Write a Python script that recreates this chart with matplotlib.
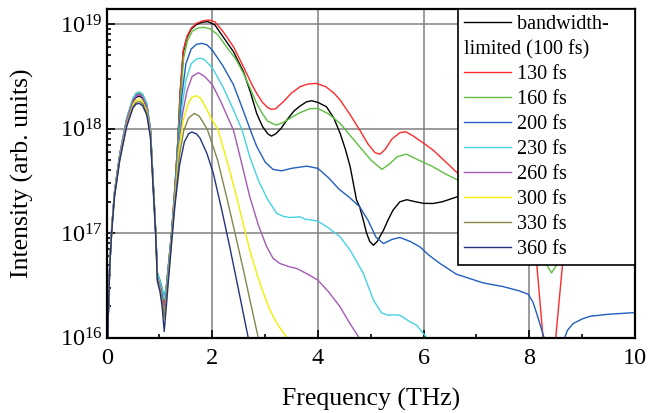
import numpy as np
import matplotlib
matplotlib.use("Agg")
import matplotlib.pyplot as plt
from matplotlib.lines import Line2D
from matplotlib.ticker import FixedLocator, LogLocator, NullFormatter

# ======================== Data ========================
# frequency in THz, intensity given as log10(arb. units)

lobe_x = [0.0, 0.03, 0.06, 0.1, 0.15, 0.25, 0.38, 0.5, 0.56, 0.62, 0.68, 0.76,
          0.83, 0.88, 0.93, 0.96, 1.01, 1.05, 1.09, 1.13, 1.17, 1.23]

# bandwidth-limited (100 fs)
bl_lobe = [14.5, 16.2, 16.7, 17.06, 17.38, 17.74, 18.07, 18.26, 18.3, 18.31, 18.29, 18.2,
           17.97, 17.48, 17.0, 16.6, 16.52, 16.44, 16.3, 16.45, 16.68, 17.0]
bl_x = [1.29, 1.35, 1.39, 1.45, 1.52, 1.6, 1.7, 1.82, 1.92, 2.05, 2.2, 2.4, 2.59, 2.72,
        2.84, 2.95, 3.05, 3.12, 3.2, 3.3, 3.41, 3.55, 3.66, 3.78, 3.88, 4.0, 4.16, 4.3,
        4.42, 4.52, 4.61, 4.73, 4.79, 4.86, 4.92, 4.98, 5.05, 5.12, 5.24, 5.33, 5.42,
        5.55, 5.68, 5.85, 6.0, 6.18, 6.35, 6.65, 7.0, 7.5, 8.0]
bl_y = [17.42, 17.9, 18.33, 18.73, 18.87, 18.95, 18.995, 19.018, 19.022, 18.99, 18.88,
        18.735, 18.544, 18.35, 18.145, 18.02, 17.95, 17.928, 17.95, 18.0, 18.081, 18.17,
        18.215, 18.255, 18.266, 18.25, 18.209, 18.1, 17.954, 17.8, 17.634, 17.316, 17.25,
        17.12, 17.0, 16.92, 16.885, 16.92, 17.029, 17.13, 17.22, 17.3, 17.32, 17.3,
        17.285, 17.284, 17.3, 17.35, 17.4, 17.4, 17.3]

# 130 fs
r_lobe = [14.5, 16.2, 16.71, 17.07, 17.39, 17.75, 18.08, 18.27, 18.32, 18.33, 18.31, 18.22,
          17.98, 17.49, 17.0, 16.61, 16.53, 16.45, 16.32, 16.47, 16.69, 17.01]
r_x = [1.29, 1.35, 1.39, 1.45, 1.52, 1.6, 1.7, 1.82, 1.94, 2.05, 2.2, 2.4, 2.59, 2.75,
       2.84, 2.95, 3.05, 3.12, 3.2, 3.35, 3.5, 3.66, 3.8, 3.97, 4.15, 4.3, 4.42, 4.6,
       4.79, 4.95, 5.08, 5.17, 5.27, 5.4, 5.55, 5.66, 5.8, 6.0, 6.18, 6.4, 6.65, 7.0,
       7.4, 7.8, 8.0, 8.14, 8.26, 8.34, 8.38, 8.43, 8.5, 8.63, 8.8, 9.2, 9.6, 10.0]
r_y = [17.42, 17.9, 18.34, 18.75, 18.88, 18.96, 19.006, 19.03, 19.038, 19.02, 18.93,
       18.783, 18.59, 18.42, 18.337, 18.25, 18.2, 18.184, 18.19, 18.26, 18.34, 18.4,
       18.425, 18.432, 18.4, 18.34, 18.273, 18.14, 17.986, 17.85, 17.77, 17.755, 17.8,
       17.9, 17.96, 17.97, 17.93, 17.86, 17.794, 17.69, 17.57, 17.43, 17.25, 17.03,
       16.87, 16.71, 16.0, 15.3, 15.0, 15.3, 16.0, 16.71, 17.1, 17.55, 17.85, 18.05]

# 160 fs
g_lobe = [14.5, 16.2, 16.72, 17.08, 17.4, 17.76, 18.1, 18.29, 18.34, 18.35, 18.33, 18.24,
          18.0, 17.5, 17.0, 16.62, 16.55, 16.48, 16.38, 16.5, 16.7, 17.02]
g_x = [1.29, 1.35, 1.4, 1.46, 1.53, 1.62, 1.72, 1.83, 1.95, 2.1, 2.3, 2.45, 2.59, 2.72,
       2.84, 2.95, 3.05, 3.21, 3.35, 3.47, 3.65, 3.85, 4.0, 4.2, 4.42, 4.6, 4.79, 5.0,
       5.21, 5.35, 5.5, 5.67, 5.9, 6.18, 6.4, 6.65, 7.0, 7.5, 8.0, 8.3, 8.42, 8.55, 9.0,
       9.5, 10.0]
g_y = [17.4, 17.88, 18.3, 18.68, 18.84, 18.93, 18.96, 18.968, 18.955, 18.9, 18.76, 18.66,
       18.528, 18.38, 18.24, 18.14, 18.07, 18.033, 18.06, 18.098, 18.15, 18.19, 18.193,
       18.14, 18.05, 17.94, 17.826, 17.7, 17.61, 17.66, 17.73, 17.756, 17.7, 17.634,
       17.57, 17.507, 17.4, 17.2, 16.95, 16.72, 16.62, 16.72, 17.15, 17.4, 17.57]

# 200 fs
b_lobe = [14.5, 16.2, 16.72, 17.08, 17.4, 17.76, 18.09, 18.28, 18.33, 18.34, 18.32, 18.23,
          17.99, 17.5, 17.0, 16.62, 16.54, 16.46, 16.36, 16.49, 16.69, 17.01]
b_x = [1.29, 1.36, 1.42, 1.5, 1.6, 1.7, 1.8, 1.9, 2.0, 2.2, 2.4, 2.55, 2.71, 2.84, 3.0,
       3.15, 3.31, 3.5, 3.79, 4.0, 4.2, 4.4, 4.6, 4.79, 4.95, 5.1, 5.24, 5.4, 5.55, 5.75,
       5.93, 6.1, 6.31, 6.62, 7.13, 7.5, 7.8, 7.98, 8.07, 8.14, 8.22, 8.28, 8.4, 8.55,
       8.67, 8.72, 8.83, 9.0, 9.15, 9.5, 10.0]
b_y = [17.38, 17.88, 18.3, 18.62, 18.76, 18.805, 18.815, 18.8, 18.75, 18.6, 18.42, 18.22,
       18.0, 17.83, 17.68, 17.61, 17.596, 17.62, 17.641, 17.619, 17.53, 17.42, 17.34,
       17.252, 17.12, 16.96, 16.901, 16.94, 16.959, 16.92, 16.869, 16.79, 16.71, 16.608,
       16.524, 16.49, 16.45, 16.416, 16.34, 16.232, 16.1, 16.0, 15.5, 15.5, 16.0, 16.07,
       16.136, 16.18, 16.206, 16.225, 16.241]

# 230 fs
c_lobe = [14.5, 16.2, 16.72, 17.08, 17.4, 17.76, 18.1, 18.29, 18.335, 18.345, 18.325, 18.235,
          17.99, 17.5, 17.0, 16.62, 16.54, 16.47, 16.37, 16.48, 16.68, 17.0]
c_x = [1.29, 1.37, 1.43, 1.5, 1.6, 1.7, 1.77, 1.85, 2.0, 2.2, 2.4, 2.56, 2.71, 2.87,
       3.05, 3.22, 3.35, 3.47, 3.66, 3.75, 4.0, 4.2, 4.42, 4.61, 4.86, 5.05, 5.2, 5.33,
       5.45, 5.55, 5.75, 5.87, 5.93, 6.06, 6.2]
c_y = [17.36, 17.88, 18.22, 18.46, 18.62, 18.665, 18.672, 18.66, 18.58, 18.4, 18.18,
       17.99, 17.73, 17.507, 17.32, 17.189, 17.16, 17.15, 17.156, 17.135, 17.115, 17.05,
       16.965, 16.837, 16.614, 16.36, 16.24, 16.215, 16.22, 16.215, 16.15, 16.12, 16.08,
       16.0, 15.8]

# 260 fs
p_lobe = [14.5, 16.2, 16.71, 17.07, 17.39, 17.75, 18.08, 18.27, 18.31, 18.32, 18.3, 18.21,
          17.97, 17.48, 16.99, 16.58, 16.5, 16.4, 16.27, 16.43, 16.65, 16.98]
p_x = [1.29, 1.37, 1.44, 1.52, 1.62, 1.74, 1.85, 2.0, 2.15, 2.4, 2.55, 2.71, 2.87, 3.03,
       3.15, 3.28, 3.45, 3.6, 3.8, 4.0, 4.2, 4.42, 4.6, 4.78, 4.9]
p_y = [17.34, 17.85, 18.15, 18.36, 18.5, 18.534, 18.5, 18.42, 18.27, 17.986, 17.68,
       17.347, 17.08, 16.869, 16.76, 16.71, 16.68, 16.662, 16.61, 16.55, 16.44, 16.295,
       16.14, 16.0, 15.8]

# 300 fs
yl_lobe = [14.5, 16.2, 16.7, 17.05, 17.37, 17.72, 18.04, 18.23, 18.27, 18.28, 18.26, 18.17,
           17.94, 17.45, 16.98, 16.56, 16.47, 16.35, 16.17, 16.38, 16.6, 16.95]
yl_x = [1.29, 1.37, 1.45, 1.55, 1.62, 1.69, 1.78, 1.9, 2.0, 2.11, 2.3, 2.46, 2.6, 2.71,
        2.85, 2.97, 3.08, 3.19, 3.3, 3.42, 3.55]
yl_y = [17.3, 17.8, 18.08, 18.25, 18.3, 18.314, 18.29, 18.18, 18.08, 17.986, 17.65,
        17.347, 17.06, 16.837, 16.6, 16.423, 16.28, 16.167, 16.08, 16.0, 15.9]

# 330 fs
o_lobe = [14.5, 16.2, 16.7, 17.05, 17.36, 17.71, 18.03, 18.21, 18.25, 18.26, 18.24, 18.15,
          17.93, 17.45, 16.98, 16.56, 16.47, 16.37, 16.2, 16.38, 16.6, 16.95]
o_x = [1.29, 1.38, 1.46, 1.55, 1.66, 1.75, 1.85, 1.91, 2.1, 2.27, 2.43, 2.59, 2.73,
       2.87, 2.95]
o_y = [17.28, 17.75, 17.98, 18.1, 18.145, 18.12, 18.04, 17.986, 17.7, 17.347, 17.0,
       16.646, 16.32, 16.0, 15.8]

# 360 fs
n_lobe = [14.5, 16.2, 16.69, 17.04, 17.35, 17.7, 18.02, 18.2, 18.235, 18.24, 18.22, 18.13,
          17.91, 17.43, 16.96, 16.54, 16.44, 16.3, 16.06, 16.3, 16.55, 16.9]
n_x = [1.29, 1.38, 1.47, 1.55, 1.61, 1.7, 1.77, 1.9, 2.02, 2.18, 2.33, 2.5, 2.68, 2.8]
n_y = [17.25, 17.65, 17.87, 17.95, 17.967, 17.95, 17.906, 17.76, 17.571, 17.22, 16.869,
       16.45, 16.0, 15.7]

labels = ["bandwidth-", "130 fs", "160 fs", "200 fs", "230 fs", "260 fs",
          "300 fs", "330 fs", "360 fs"]
colors = ["#000000", "#ff2a2a", "#5cbf3f", "#1f5fbf", "#45d3e3", "#a35ab5",
          "#f0f000", "#85854a", "#25327d"]
series = [(bl_lobe, bl_x, bl_y), (r_lobe, r_x, r_y), (g_lobe, g_x, g_y),
          (b_lobe, b_x, b_y), (c_lobe, c_x, c_y), (p_lobe, p_x, p_y),
          (yl_lobe, yl_x, yl_y), (o_lobe, o_x, o_y), (n_lobe, n_x, n_y)]

# ======================== Style ========================
plt.rcParams['font.family'] = ['Liberation Serif', 'DejaVu Serif']
plt.rcParams['mathtext.fontset'] = 'custom'
plt.rcParams['mathtext.rm'] = 'Liberation Serif'
plt.rcParams['mathtext.it'] = 'Liberation Serif:italic'

fig = plt.figure(figsize=(6.49, 4.13), dpi=100)
ax = fig.add_axes([0.1643, 0.1821, 0.8141, 0.7961])

# ======================== Curves ========================
handles = []
for (lobe, tx, ty), lab, col in zip(series, labels, colors):
    x = np.array(lobe_x + tx)
    y = 10.0 ** np.array(lobe + ty)
    ln, = ax.plot(x, y, color=col, lw=1.0, label=lab)
    handles.append(ln)

ax.set_yscale('log')
ax.set_xlim(0, 10)
ax.set_ylim(1e16, 1.39e19)

ax.xaxis.set_major_locator(FixedLocator([0, 2, 4, 6, 8, 10]))
ax.xaxis.set_minor_locator(FixedLocator([1, 3, 5, 7, 9]))
ax.yaxis.set_major_locator(LogLocator(base=10, numticks=10))
ax.yaxis.set_minor_locator(LogLocator(base=10, subs=np.arange(2, 10), numticks=20))
ax.yaxis.set_minor_formatter(NullFormatter())

ax.grid(True, which='major', color='0.5', lw=1.1)
ax.tick_params(which='both', direction='in', labelsize=17.5, width=1.2)
ax.tick_params(which='major', length=6, pad=7)
ax.tick_params(which='minor', length=3)
ax.tick_params(axis='y', which='major', pad=3)
for s in ax.spines.values():
    s.set_linewidth(1.6)

ax.set_xlabel("Frequency (THz)", fontsize=18.5)
ax.set_ylabel("Intensity (arb. units)", fontsize=18.5)
ax.xaxis.set_label_coords(0.5, -0.152)
ax.yaxis.set_label_coords(-0.137, 0.5)

# ======================== Legend ========================
fs_leg = 14.5
blank = Line2D([], [], color='none')
leg_handles = [handles[0], blank] + handles[1:]
leg_labels = ["bandwidth-    ", "l"] + labels[1:]
leg = ax.legend(leg_handles, leg_labels, loc='upper right', fontsize=fs_leg,
                frameon=True, fancybox=False, framealpha=1, edgecolor='black',
                borderaxespad=0.0, handlelength=2.3, handletextpad=0.33,
                labelspacing=0.29, borderpad=0.3)
leg.get_frame().set_linewidth(1.2)

# second line of the first entry starts under the handle, not after it
fig.canvas.draw()
W, H = fig.canvas.get_width_height()
hx0 = leg.get_lines()[0].get_window_extent().x0
t2 = leg.get_texts()[1]
bb = t2.get_window_extent()
t2.set_visible(False)
fig.text(hx0 / W, bb.y0 / H, "limited (100 fs)", fontsize=fs_leg,
         ha='left', va='bottom', zorder=10)

fig.savefig("out.png", dpi=100)
